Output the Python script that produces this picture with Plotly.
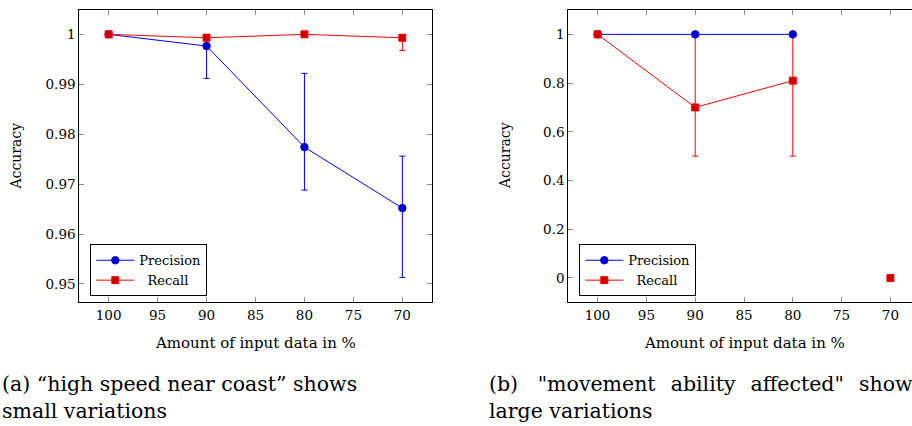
import plotly.graph_objects as go

# ---------------- data ----------------
input_pct = [100, 90, 80, 70]

# (a) high speed near coast
a_precision = [1.0, 0.99766, 0.97741, 0.96519]
a_precision_err_plus = [0.0, 0.00234, 0.01477, 0.01042]
a_precision_err_minus = [0.0, 0.00648, 0.00861, 0.01389]
a_recall = [1.0, 0.99932, 1.0, 0.99932]
a_recall_err_plus = [0.0, 0.0, 0.0, 0.0]
a_recall_err_minus = [0.0, 0.0022, 0.0, 0.00253]

# (b) movement ability affected
b_precision = [1.0, 1.0, 1.0, None]
b_recall = [1.0, 0.70, 0.81, 0.0]
b_recall_err_plus = [0.0, 0.30, 0.19, 0.0]
b_recall_err_minus = [0.0, 0.20, 0.31, 0.0]

x_ticks = [100, 95, 90, 85, 80, 75, 70]
a_y_ticks = [0.95, 0.96, 0.97, 0.98, 0.99, 1.0]
a_y_ticktext = ["0.95", "0.96", "0.97", "0.98", "0.99", "1"]
b_y_ticks = [0, 0.2, 0.4, 0.6, 0.8, 1.0]
b_y_ticktext = ["0", "0.2", "0.4", "0.6", "0.8", "1"]

series_names = ["Precision", "\u00a0\u00a0Recall"]

NB = "\u00a0"
GAP = NB * 2 + "\u200a"
caption_a = ["(a) \u201chigh speed near coast\u201d shows", "small variations"]
caption_b = ["(b)" + NB * 3 + '"movement' + GAP + "ability" + GAP + 'affected"' + GAP + "shows",
             "large variations"]

# ---------------- styles ----------------
BLUE = "#0000ff"
BLUE_FILL = "#0000cc"
RED = "#ff0000"
RED_FILL = "#cc0000"
FONT = "DejaVu Serif"
W, H = 912, 426


def px(x):
    return x / W


def py(y):
    return 1 - y / H


fig = go.Figure()


def err(plus, minus, color):
    return dict(type="data", symmetric=False, array=plus, arrayminus=minus,
                color=color, thickness=1, width=3)


# ---- subplot (a) ----
fig.add_trace(go.Scatter(
    x=input_pct, y=a_recall, mode="markers", xaxis="x", yaxis="y",
    marker=dict(size=1, color="rgba(0,0,0,0)"),
    error_y=err(a_recall_err_plus, a_recall_err_minus, RED),
    showlegend=False, hoverinfo="skip"))
fig.add_trace(go.Scatter(
    x=input_pct, y=a_precision, mode="lines+markers", name=series_names[0],
    xaxis="x", yaxis="y", legend="legend",
    line=dict(color=BLUE, width=1),
    marker=dict(symbol="circle", size=7.5, color=BLUE_FILL, line=dict(color=BLUE, width=1)),
    error_y=err(a_precision_err_plus, a_precision_err_minus, BLUE)))
fig.add_trace(go.Scatter(
    x=input_pct, y=a_recall, mode="lines+markers", name=series_names[1],
    xaxis="x", yaxis="y", legend="legend",
    line=dict(color=RED, width=1),
    marker=dict(symbol="square", size=7, color=RED_FILL, line=dict(color=RED, width=1))))

# ---- subplot (b) ----
fig.add_trace(go.Scatter(
    x=input_pct, y=b_recall, mode="markers", xaxis="x2", yaxis="y2",
    marker=dict(size=1, color="rgba(0,0,0,0)"),
    error_y=err(b_recall_err_plus, b_recall_err_minus, RED),
    showlegend=False, hoverinfo="skip"))
fig.add_trace(go.Scatter(
    x=input_pct, y=b_precision, mode="lines+markers", name=series_names[0],
    xaxis="x2", yaxis="y2", legend="legend2",
    line=dict(color=BLUE, width=1),
    marker=dict(symbol="circle", size=7.5, color=BLUE_FILL, line=dict(color=BLUE, width=1))))
fig.add_trace(go.Scatter(
    x=input_pct[:3], y=b_recall[:3], mode="lines+markers", name=series_names[1],
    xaxis="x2", yaxis="y2", legend="legend2",
    line=dict(color=RED, width=1),
    marker=dict(symbol="square", size=7, color=RED_FILL, line=dict(color=RED, width=1))))
fig.add_trace(go.Scatter(
    x=input_pct[3:], y=b_recall[3:], mode="markers", showlegend=False,
    xaxis="x2", yaxis="y2",
    marker=dict(symbol="square", size=7, color=RED_FILL, line=dict(color=RED, width=1))))

tickfont = dict(family=FONT, size=13.5, color="black")
axis_common = dict(showline=True, linecolor="black", linewidth=1, ticks="inside",
                   ticklen=5, tickwidth=1, tickcolor="#8c8c8c", showgrid=False,
                   zeroline=False, tickfont=tickfont, fixedrange=True)

a_x0, a_x1 = 79.3, 431.7
b_x0, b_x1 = 568.3, 919.7
y0, y1 = 10, 302.3
b_range_end = 103 - 36 * (W - b_x0) / (b_x1 - b_x0)

legend_common = dict(xanchor="left", yanchor="top", bordercolor="black", borderwidth=1,
                     bgcolor="white", font=dict(family=FONT, size=13), itemwidth=38,
                     tracegroupgap=0)

fig.update_layout(
    width=W, height=H, margin=dict(l=0, r=0, t=0, b=0),
    paper_bgcolor="white", plot_bgcolor="white",
    font=dict(family=FONT, color="black"),
    xaxis=dict(domain=[px(a_x0), px(a_x1)], anchor="y", range=[103, 67],
               tickvals=x_ticks, ticktext=[str(v) for v in x_ticks],
               mirror="allticks", ticklabelstandoff=0, **axis_common),
    yaxis=dict(domain=[py(y1), py(y0)], anchor="x", range=[0.94632, 1.00488],
               tickvals=a_y_ticks, ticktext=a_y_ticktext,
               mirror="allticks", ticklabelstandoff=0, **axis_common),
    xaxis2=dict(domain=[px(b_x0), 1.0], anchor="y2", range=[103, b_range_end],
                tickvals=x_ticks, ticktext=[str(v) for v in x_ticks],
                mirror="allticks", ticklabelstandoff=0, **axis_common),
    yaxis2=dict(domain=[py(y1), py(y0)], anchor="x2", range=[-0.1, 1.1],
                tickvals=b_y_ticks, ticktext=b_y_ticktext,
                mirror=False, ticklabelstandoff=0, **axis_common),
    legend=dict(x=px(90.3), y=py(244.3), **legend_common),
    legend2=dict(x=px(579.3), y=py(244.3), **legend_common),
    shapes=[dict(type="rect", xref="paper", yref="paper", x0=px(909.5), x1=1.0,
                 y0=py(y1 - 1), y1=py(y0 + 1), fillcolor="white", line=dict(width=0),
                 layer="above")],
)

ann = []
for xc in (15.5, 505):
    ann.append(dict(text="Accuracy", x=px(xc), y=py(156), textangle=-90, showarrow=False,
                    xanchor="center", yanchor="middle",
                    xref="paper", yref="paper", font=dict(family=FONT, size=14)))
for (l, r) in ((a_x0, a_x1), (b_x0, b_x1)):
    ann.append(dict(text="Amount of input data in %", x=px((l + r) / 2), y=py(343),
                    xanchor="center", yanchor="middle",
                    showarrow=False, xref="paper", yref="paper", font=dict(family=FONT, size=15)))
for i, line in enumerate(caption_a):
    ann.append(dict(text=line, x=0, y=py(384 + 27 * i), xanchor="left", yanchor="middle",
                    showarrow=False, xref="paper", yref="paper",
                    font=dict(family=FONT, size=20.5)))
for i, line in enumerate(caption_b):
    ann.append(dict(text=line, x=px(487), y=py(384 + 27 * i), xanchor="left", yanchor="middle",
                    showarrow=False, xref="paper", yref="paper",
                    font=dict(family=FONT, size=20.5)))
fig.update_layout(annotations=ann)

fig.write_html("out.html", config={"displayModeBar": False},
               post_script="document.body.style.margin='0';document.body.style.overflow='hidden';")
